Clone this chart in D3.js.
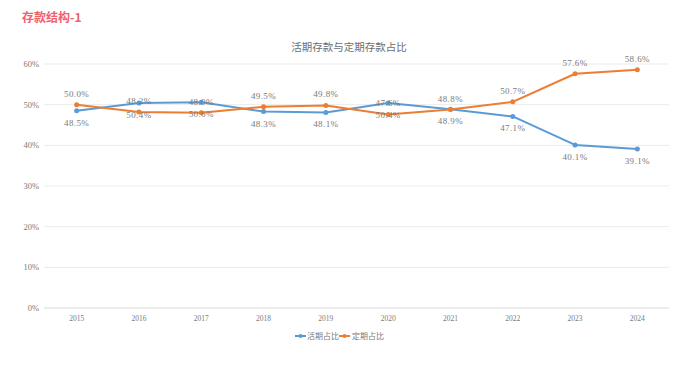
<!DOCTYPE html>
<html><head><meta charset="utf-8">
<script src="https://cdn.jsdelivr.net/npm/d3@7"></script>
<style>body{margin:0;background:#fff}svg{display:block}</style>
</head><body>
<svg id="c" width="692" height="390"></svg>
<script>
const years = ["2015","2016","2017","2018","2019","2020","2021","2022","2023","2024"];
const demand = [48.5, 50.4, 50.6, 48.3, 48.1, 50.4, 48.9, 47.1, 40.1, 39.1];
const fixed  = [50.0, 48.2, 48.0, 49.5, 49.8, 47.6, 48.8, 50.7, 57.6, 58.6];
const seriesNames = ["活期占比", "定期占比"];
const yTicks = [0, 10, 20, 30, 40, 50, 60];
const colors = ["#5b9bd5", "#ed7d31"];

const svg = d3.select("#c");
const numFont = "'Liberation Serif', 'Noto Sans CJK SC', serif";
const cjkFont = "'Noto Sans CJK SC', sans-serif";
const txt = "#7a7a7a";

svg.append("text").attr("x", 22).attr("y", 22).attr("font-family", cjkFont)
  .attr("font-size", 12).attr("font-weight", "bold").attr("fill", "#f2606c").text("存款结构-1");

svg.append("text").attr("x", 349).attr("y", 51).attr("text-anchor", "middle")
  .attr("font-family", cjkFont).attr("font-size", 10.5).attr("fill", "#6e6e6e").text("活期存款与定期存款占比");

const x = d3.scaleBand().domain(years).range([45.5, 668.5]);
const y = d3.scaleLinear().domain([0, 60]).range([308, 64]);

const g = svg.append("g");
g.selectAll("line.grid").data(yTicks).join("line")
  .attr("x1", 44).attr("x2", 669).attr("y1", d => y(d)).attr("y2", d => y(d))
  .attr("stroke", d => d === 0 ? "#d9d9d9" : "#ebebeb").attr("stroke-width", 1);

g.selectAll("text.yt").data(yTicks).join("text")
  .attr("x", 39).attr("y", d => y(d) + 3).attr("text-anchor", "end")
  .attr("font-family", numFont).attr("font-size", 8.5).attr("fill", txt).text(d => d + "%");

g.selectAll("text.xt").data(years).join("text")
  .attr("x", d => x(d) + x.bandwidth() / 2).attr("y", 321).attr("text-anchor", "middle")
  .attr("font-family", numFont).attr("font-size", 7.5).attr("fill", txt).text(d => d);

const cx = (d, i) => x(years[i]) + x.bandwidth() / 2;
[demand, fixed].forEach((vals, s) => {
  const line = d3.line().x((d, i) => cx(d, i)).y(d => y(d));
  svg.append("path").datum(vals).attr("d", line).attr("fill", "none")
    .attr("stroke", colors[s]).attr("stroke-width", 2).attr("stroke-linejoin", "round");
  svg.append("g").selectAll("circle").data(vals).join("circle")
    .attr("cx", cx).attr("cy", d => y(d)).attr("r", 2.5).attr("fill", colors[s]);
});
// labels: demand below, fixed above
[[demand, 15], [fixed, -8]].forEach(([vals, dy]) => {
  svg.append("g").selectAll("text").data(vals).join("text")
    .attr("x", cx).attr("y", d => y(d) + dy).attr("text-anchor", "middle")
    .attr("font-family", numFont).attr("font-size", 9).attr("letter-spacing", 0.4).attr("fill", txt)
    .text(d => d.toFixed(1) + "%");
});

// legend
const lg = svg.append("g");
const legendItems = [{x: 295, tx: 307}, {x: 339, tx: 352}];
legendItems.forEach((it, s) => {
  lg.append("line").attr("x1", it.x).attr("x2", it.x + 11).attr("y1", 336).attr("y2", 336)
    .attr("stroke", colors[s]).attr("stroke-width", 2);
  lg.append("circle").attr("cx", it.x + 5.5).attr("cy", 336).attr("r", 2).attr("fill", colors[s]);
  lg.append("text").attr("x", it.tx).attr("y", 339).attr("font-family", cjkFont)
    .attr("font-size", 8).attr("fill", txt).text(seriesNames[s]);
});
</script>
</body></html>
